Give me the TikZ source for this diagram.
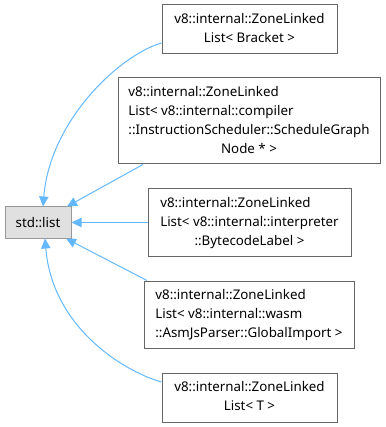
\documentclass[tikz,border=0pt]{standalone}
\usepackage{fontspec}
\setmainfont{Noto Sans}
\usetikzlibrary{arrows.meta}
\definecolor{edgeblue}{HTML}{63B8FF}
\definecolor{boxline}{HTML}{666666}
\definecolor{focusline}{HTML}{999999}
\definecolor{focusfill}{HTML}{E0E0E0}
% left-aligned lines, last line centred
\newcommand{\classlabel}[2]{\begin{tabular}{@{}l@{}}#1\multicolumn{1}{@{}c@{}}{#2}\end{tabular}}
\begin{document}
\begin{tikzpicture}[x=0.75pt,y=-0.75pt,
  font=\fontsize{10pt}{14.25pt}\selectfont,
  cls/.style={draw=boxline,fill=white,line width=0.75pt,inner sep=0pt,
    minimum width={#1}},
  focus/.style={draw=focusline,fill=focusfill,line width=0.75pt,inner sep=0pt,
    minimum width={66*0.75pt},minimum height={31*0.75pt}},
  edge/.style={draw=edgeblue,line width=0.75pt,
    {Triangle[length=7.5pt,width=7pt]}-}]
\useasboundingbox (0,0) rectangle (385,427);

\node[focus] (lst) at (38,222.5) {std::list};

\node[cls={175*0.75pt},minimum height={49*0.75pt}] (b1) at (249.5,29.5)
  {\classlabel{v8::internal::ZoneLinked\\}{List< Bracket >}};
\node[cls={262*0.75pt},minimum height={86*0.75pt}] (b2) at (249,121)
  {\classlabel{v8::internal::ZoneLinked\\List< v8::internal::compiler\\::InstructionScheduler::ScheduleGraph\\}{Node * >}};
\node[cls={203*0.75pt},minimum height={67*0.75pt}] (b3) at (249.5,222.5)
  {\classlabel{v8::internal::ZoneLinked\\List< v8::internal::interpreter\\}{::BytecodeLabel >}};
\node[cls={210*0.75pt},minimum height={67*0.75pt}] (b4) at (249,314.5)
  {\classlabel{v8::internal::ZoneLinked\\List< v8::internal::wasm\\}{::AsmJsParser::GlobalImport >}};
\node[cls={175*0.75pt},minimum height={49*0.75pt}] (b5) at (249.5,397.5)
  {\classlabel{v8::internal::ZoneLinked\\}{List< T >}};

% inheritance edges, arrow tips at the base class
\draw[edge] ([xshift=3.75pt]lst.north) .. controls (50,120) and (120,55) .. ([yshift=-10.1pt]b1.west);
\draw[edge] ([xshift=21.75pt]lst.north) -- ([xshift=-79.5pt]b2.south);
\draw[edge] (lst.east) -- (b3.west);
\draw[edge] ([xshift=21pt]lst.south) -- ([xshift=-76.5pt]b4.north);
\draw[edge] ([xshift=5.25pt]lst.south) .. controls (52,325) and (120,370) .. ([yshift=11.6pt]b5.west);
\end{tikzpicture}
\end{document}
